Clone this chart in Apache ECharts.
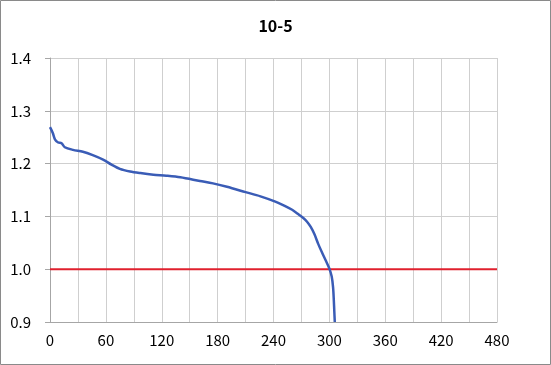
<!DOCTYPE html>
<html>
<head>
<meta charset="utf-8">
<script src="https://cdn.jsdelivr.net/npm/echarts@6/dist/echarts.min.js"></script>
<style>
html,body{margin:0;padding:0;background:#fff;}
#chart{width:551px;height:365px;}
</style>
</head>
<body>
<div id="chart"></div>
<script>
var titleText = '10-5';
var xTicks = [0, 60, 120, 180, 240, 300, 360, 420, 480];
var yTicks = [0.9, 1.0, 1.1, 1.2, 1.3, 1.4];
var timeValues = [0, 3, 5.3, 8.8, 12.4, 15.9, 24.7, 35.3, 45.9, 57, 66, 75, 86, 97, 111, 125, 140, 161, 175, 190, 210, 226, 242, 252, 260, 266, 272, 276, 280, 284, 288, 292, 296, 299.8, 302.5, 304, 304.8, 305.3, 305.8];
var voltageValues = [1.269, 1.258, 1.246, 1.240, 1.2386, 1.231, 1.226, 1.2225, 1.216, 1.2075, 1.198, 1.19, 1.185, 1.182, 1.179, 1.177, 1.174, 1.167, 1.1625, 1.156, 1.146, 1.138, 1.128, 1.12, 1.1125, 1.105, 1.097, 1.09, 1.08, 1.066, 1.048, 1.032, 1.017, 1.002, 0.986, 0.965, 0.94, 0.92, 0.9];
var refTimes = [0, 480];
var refValues = [1.0, 1.0];

var curve = timeValues.map(function (t, i) { return [t, voltageValues[i]]; });
var refLine = refTimes.map(function (t, i) { return [t, refValues[i]]; });

var chart = echarts.init(document.getElementById('chart'));
var fontFam = '"Noto Sans CJK JP", "Noto Sans", sans-serif';
chart.setOption({
  animation: false,
  backgroundColor: '#fff',
  graphic: [{
    type: 'rect', shape: {x: 0.5, y: 0.5, width: 550, height: 364},
    style: {fill: 'none', stroke: '#8a8a8a', lineWidth: 1}, silent: true
  }],
  title: {
    text: titleText, left: 'center', top: 13,
    textStyle: {fontSize: 16, fontWeight: 'bold', color: '#000', fontFamily: fontFam}
  },
  grid: {left: 50, right: 54, top: 58, bottom: 43},
  xAxis: {
    type: 'value', min: xTicks[0], max: xTicks[xTicks.length - 1], interval: 60,
    axisLine: {show: true, lineStyle: {color: '#a6a6a6', width: 1}},
    axisTick: {show: false},
    axisLabel: {color: '#000', fontSize: 15, margin: 11, fontFamily: fontFam},
    splitLine: {show: true, lineStyle: {color: '#cfcfcf', width: 1}},
    minorTick: {show: false, splitNumber: 2},
    minorSplitLine: {show: true, lineStyle: {color: '#cfcfcf', width: 1}}
  },
  yAxis: {
    type: 'value', min: yTicks[0], max: yTicks[yTicks.length - 1], interval: 0.1,
    axisLine: {show: true, lineStyle: {color: '#a6a6a6', width: 1}},
    axisTick: {show: true, length: 5, inside: false, lineStyle: {color: '#a6a6a6'}},
    axisLabel: {color: '#000', fontSize: 15, margin: 19, fontFamily: fontFam,
      formatter: function (v) { return v.toFixed(1); }},
    splitLine: {show: true, lineStyle: {color: '#cfcfcf', width: 1}}
  },
  series: [
    {type: 'line', data: refLine, showSymbol: false, symbol: 'none',
      lineStyle: {color: '#e0202e', width: 2}, z: 2},
    {type: 'line', data: curve, showSymbol: false, symbol: 'none', smooth: 0.3,
      lineStyle: {color: '#3a5cb6', width: 2.5}, z: 3}
  ]
});
</script>
</body>
</html>
